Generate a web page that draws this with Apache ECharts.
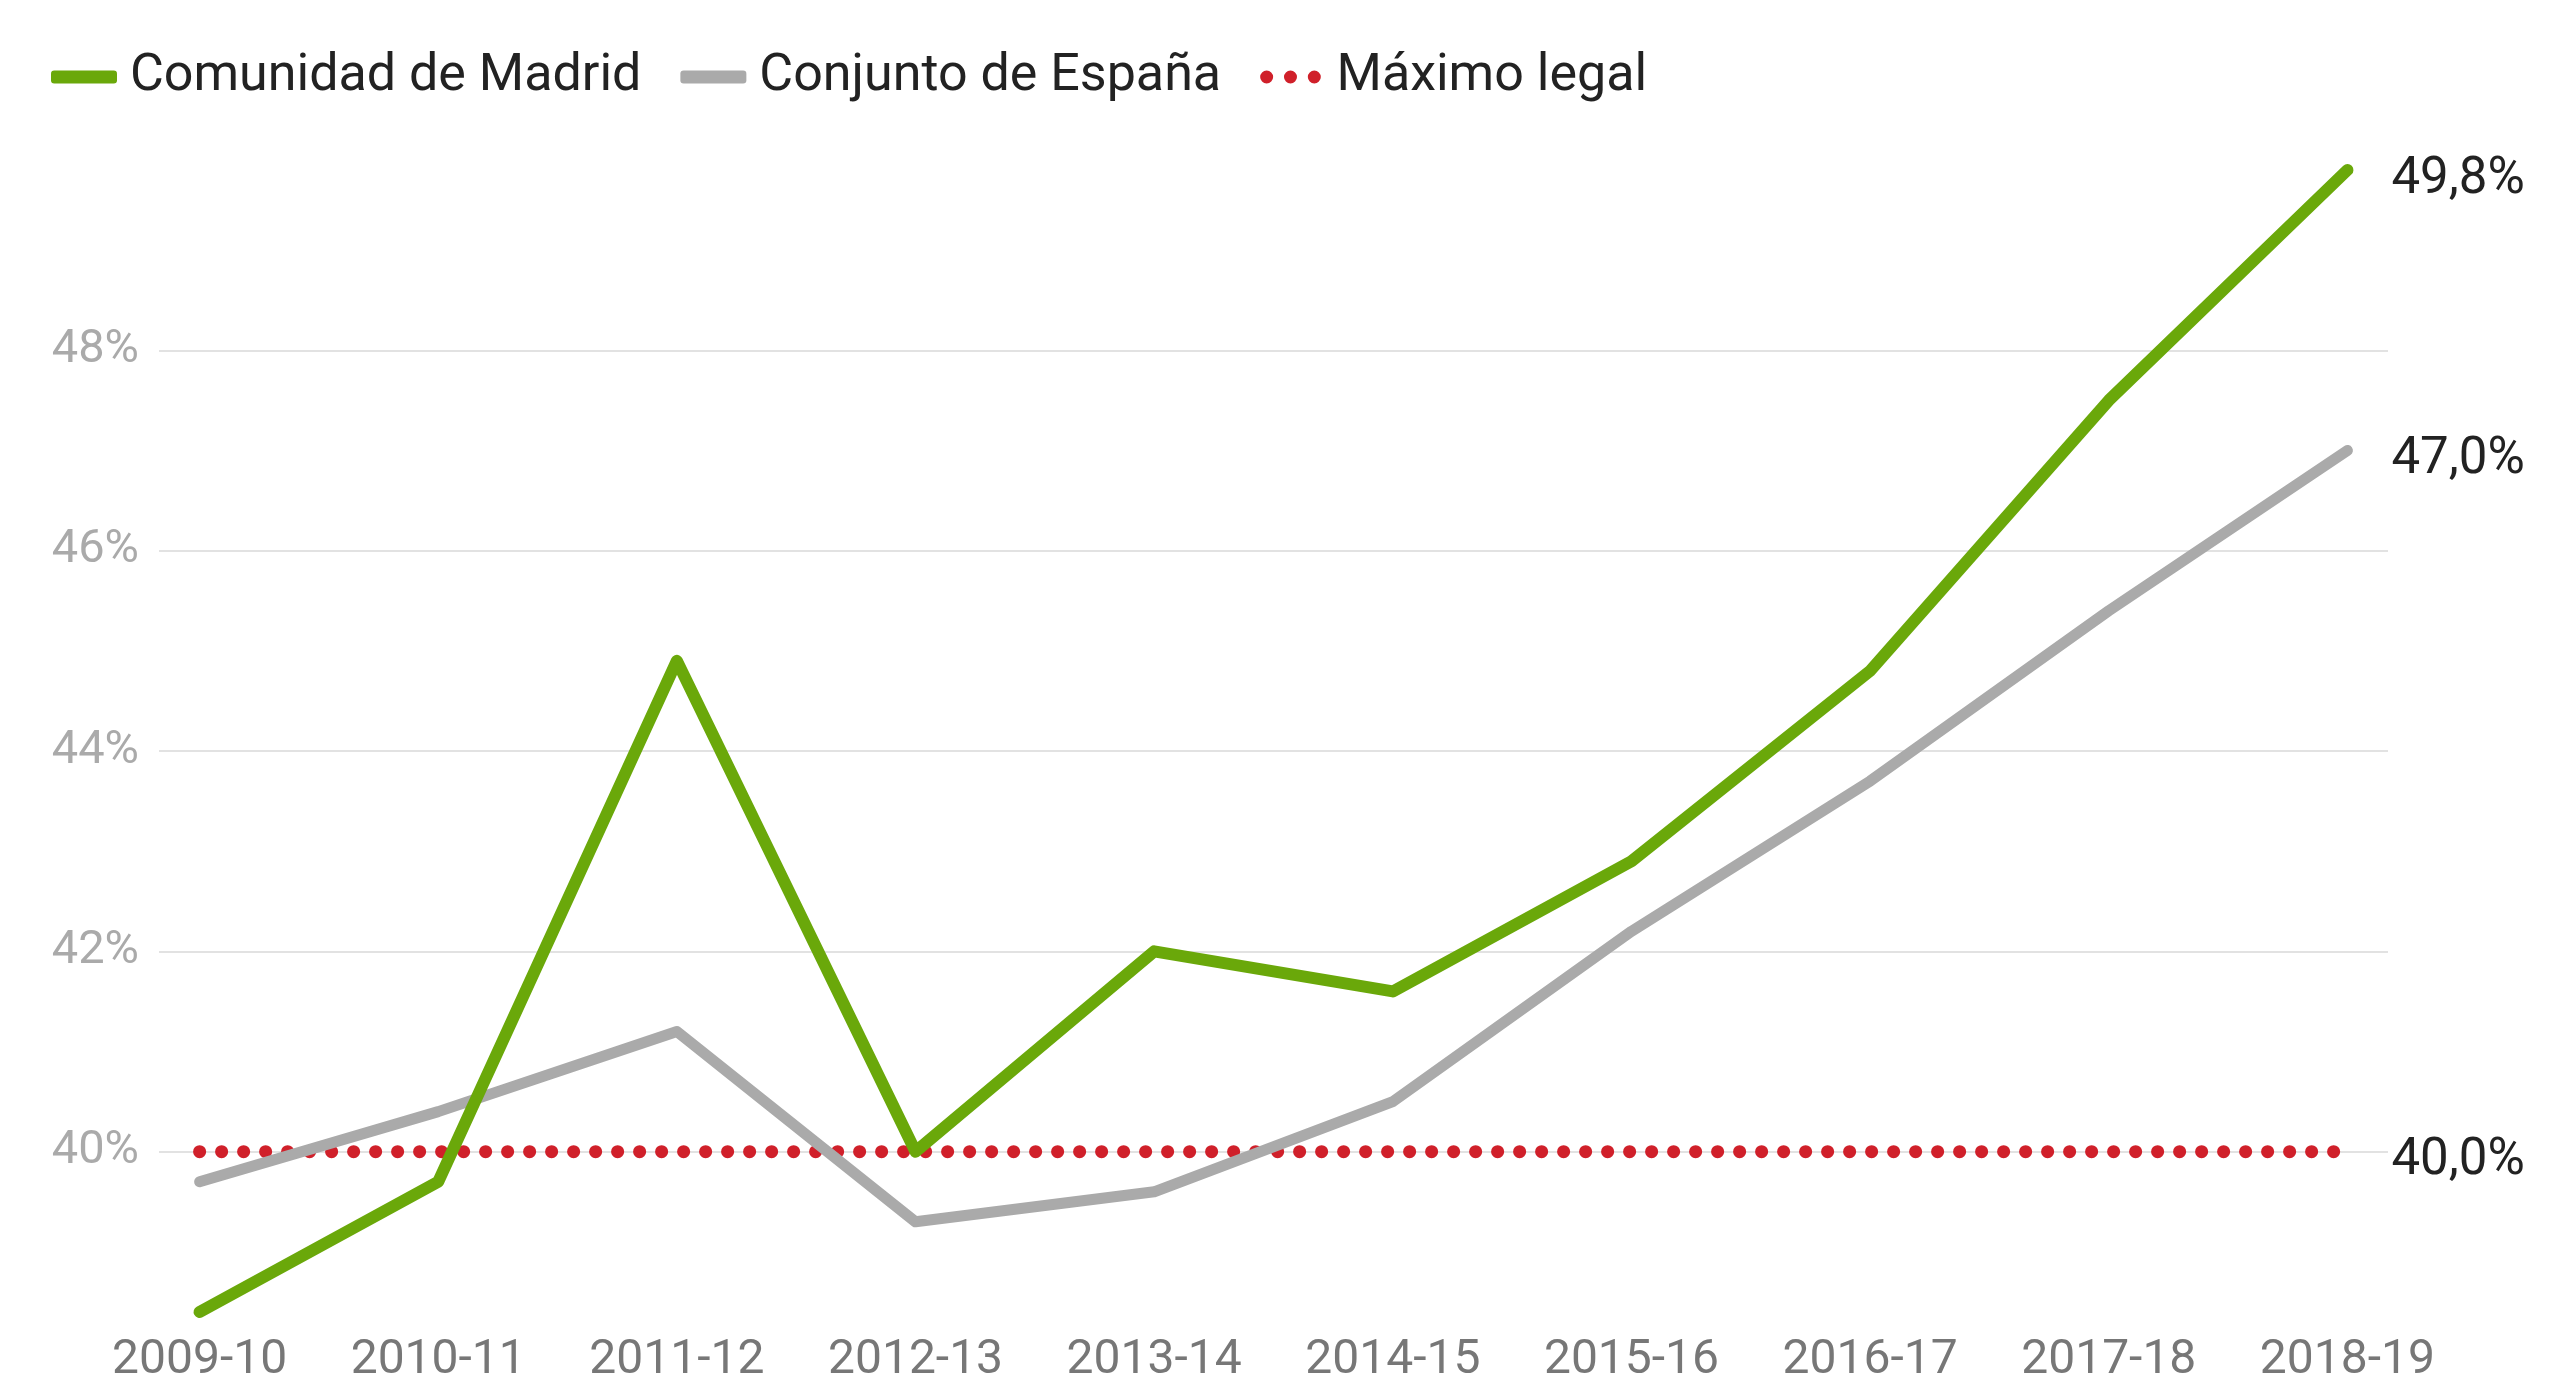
<!DOCTYPE html>
<html>
<head>
<meta charset="utf-8">
<script src="https://cdn.jsdelivr.net/npm/echarts@6/dist/echarts.min.js"></script>
<style>
html,body{margin:0;padding:0;background:#fff;}
#chart{width:2569px;height:1385px;}
</style>
</head>
<body>
<div id="chart"></div>
<script>
const categories = ['2009-10','2010-11','2011-12','2012-13','2013-14','2014-15','2015-16','2016-17','2017-18','2018-19'];
const madrid = [38.4, 39.7, 44.9, 40.0, 42.0, 41.6, 42.9, 44.8, 47.5, 49.8];
const espana = [39.7, 40.4, 41.2, 39.3, 39.6, 40.5, 42.2, 43.7, 45.4, 47.0];
const maximo = [40, 40, 40, 40, 40, 40, 40, 40, 40, 40];
const yTicks = [40, 42, 44, 46, 48];
const seriesNames = ['Comunidad de Madrid', 'Conjunto de España', 'Máximo legal'];

const toPairs = arr => arr.map((v, i) => [i, v]);
const fmtEnd = p => p.value[1].toFixed(1).replace('.', ',') + '%';
const FONT = 'Roboto';

const chart = echarts.init(document.getElementById('chart'), null, {renderer: 'canvas'});
const endLabel = {
  show: true, formatter: fmtEnd, distance: 44, offset: [0, 10],
  fontFamily: FONT, fontSize: 51, color: '#222'
};
chart.setOption({
  animation: false,
  backgroundColor: '#fff',
  textStyle: {fontFamily: FONT},
  legend: {
    left: 46, top: 46,
    itemWidth: 66, itemHeight: 13, itemGap: 39,
    symbolKeepAspect: true,
    textStyle: {fontFamily: FONT, fontSize: 52, color: '#222', padding: [0, 0, 0, 8]},
    data: [
      {name: seriesNames[0], icon: 'roundRect'},
      {name: seriesNames[1], icon: 'roundRect'},
      {name: seriesNames[2], icon: 'path://M0,6a6,6 0 1,0 12,0a6,6 0 1,0 -12,0M22,6a6,6 0 1,0 12,0a6,6 0 1,0 -12,0M44,6a6,6 0 1,0 12,0a6,6 0 1,0 -12,0'}
    ]
  },
  grid: {left: 159, right: 181, top: 150, bottom: 61, containLabel: false},
  xAxis: {
    type: 'value', min: -0.17, max: 9.17,
    axisLine: {show: false}, splitLine: {show: false},
    axisTick: {show: false, customValues: categories.map((c, i) => i)},
    axisLabel: {
      customValues: categories.map((c, i) => i),
      formatter: v => categories[Math.round(v)],
      fontFamily: FONT, fontSize: 48, color: '#777', margin: 15
    }
  },
  yAxis: {
    type: 'value', min: 38.3, max: 50,
    axisLine: {show: false},
    axisTick: {show: false, customValues: yTicks},
    axisLabel: {
      customValues: yTicks,
      formatter: v => v + '%',
      fontFamily: FONT, fontSize: 47, color: '#aaa', margin: 20
    },
    splitLine: {show: true, lineStyle: {color: '#e2e2e2', width: 2}}
  },
  series: [
    {
      name: seriesNames[0], type: 'line', data: toPairs(madrid), symbol: 'none', z: 4,
      color: '#6aa80a',
      lineStyle: {width: 12, color: '#6aa80a', cap: 'round', join: 'round'},
      endLabel: endLabel
    },
    {
      name: seriesNames[1], type: 'line', data: toPairs(espana), symbol: 'none', z: 3,
      color: '#aaaaaa',
      lineStyle: {width: 11, color: '#aaaaaa', cap: 'round', join: 'round'},
      endLabel: endLabel
    },
    {
      name: seriesNames[2], type: 'line', data: toPairs(maximo), symbol: 'none', z: 2,
      color: '#d0202a',
      lineStyle: {width: 13, color: '#d0202a', type: [0.1, 21.9], cap: 'round'},
      endLabel: endLabel
    }
  ]
});
</script>
</body>
</html>
